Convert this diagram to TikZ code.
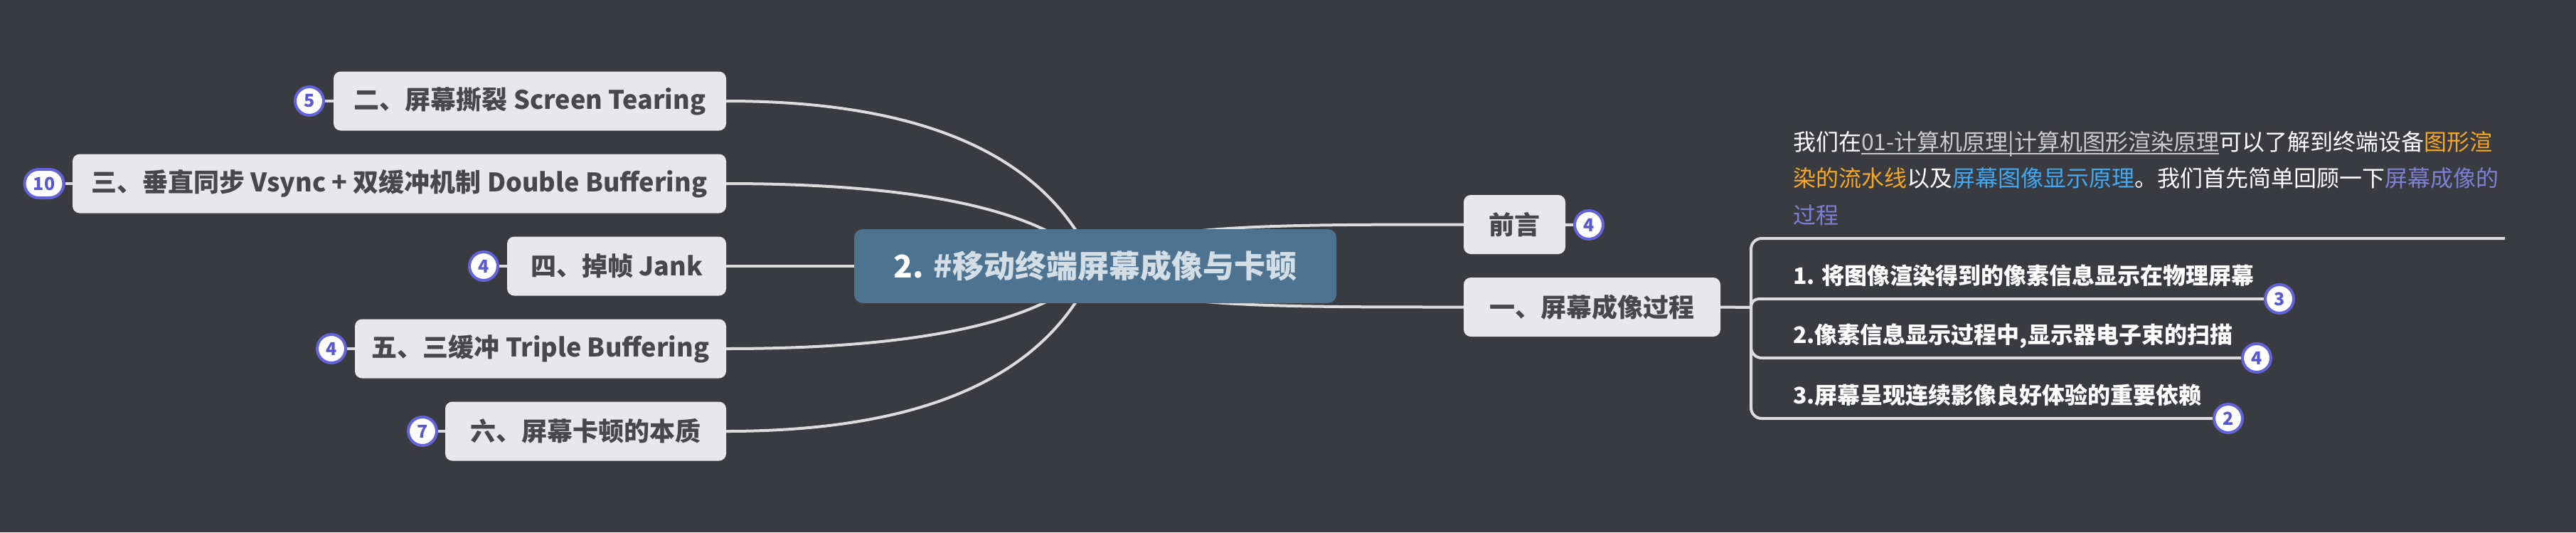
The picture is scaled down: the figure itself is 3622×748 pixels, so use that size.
\documentclass[tikz,border=0pt]{standalone}
\usepackage{fontspec}
\setmainfont{Noto Sans CJK SC}
\usetikzlibrary{calc}
\pgfdeclarelayer{back}
\pgfdeclarelayer{bg}
\pgfsetlayers{back,bg,main}
\definecolor{bgc}{HTML}{3A3B41}
\definecolor{boxc}{HTML}{E8E8EA}
\definecolor{boxtxt}{HTML}{48484B}
\definecolor{rootc}{HTML}{4E7390}
\definecolor{roottxt}{HTML}{D3DDE5}
\definecolor{linec}{HTML}{DCDCDC}
\definecolor{badgec}{HTML}{6363D9}
\definecolor{badgetxt}{HTML}{5A5AD0}
\definecolor{linkc}{HTML}{CBCBCB}
\definecolor{orangec}{HTML}{F5A623}
\definecolor{bluec}{HTML}{3FA9F5}
\definecolor{purplec}{HTML}{7D7FD6}
\newcommand\ulink[1]{\setbox0\hbox{#1}\rlap{\raisebox{-6pt}{\color{linkc}\rule{\wd0}{2.5pt}}}\box0}
\begin{document}
\begin{tikzpicture}[x=1pt,y=-1pt,
  topic/.style={fill=boxc, rounded corners=10pt, minimum height=83pt, inner sep=0pt,
    text=boxtxt, font=\fontsize{36}{40}\selectfont\bfseries},
  badge/.style={draw=badgec, line width=4pt, fill=white, rounded corners=20pt,
    minimum width=40pt, minimum height=40pt, inner sep=0pt, text=badgetxt,
    font=\fontsize{25}{25}\selectfont\bfseries},
  conn/.style={draw=linec, line width=4pt},
  item/.style={anchor=base west, inner sep=0pt, text=white,
    font=\fontsize{32}{36}\selectfont\bfseries},
  para/.style={anchor=base west, inner sep=0pt, text=white,
    font=\fontsize{32}{36}\selectfont},
  ]
\useasboundingbox (0,0) rectangle (3622,748);
\begin{pgfonlayer}{back}
\fill[bgc] (0,0) rectangle (3622,748);
\end{pgfonlayer}

% root
\node[fill=rootc, rounded corners=12pt, minimum width=678pt, minimum height=104pt,
  inner sep=0pt, font=\fontsize{44}{48}\selectfont\bfseries, text=roottxt]
  (root) at (1540,374) {\textcolor{white}{2.} \#移动终端屏幕成像与卡顿};

% left topics
\node[topic, minimum width=552pt] (b2) at (745,142) {二、屏幕撕裂 Screen Tearing};
\node[topic, minimum width=919pt] (b3) at (561.5,258) {三、垂直同步 Vsync + 双缓冲机制 Double Buffering};
\node[topic, minimum width=308pt] (b4) at (867,374) {四、掉帧 Jank};
\node[topic, minimum width=522pt] (b5) at (760,490) {五、三缓冲 Triple Buffering};
\node[topic, minimum width=395pt] (b6) at (823.5,606) {六、屏幕卡顿的本质};

\node[badge] (d2) at (435,142) {5};
\node[badge, minimum width=55pt] (d3) at (62,258) {10};
\node[badge] (d4) at (680,374) {4};
\node[badge] (d5) at (466,490) {4};
\node[badge] (d6) at (594,606) {7};

% right topics
\node[topic, minimum width=143pt] (qy) at (2129.5,315.5) {前言};
\node[badge] (dq) at (2234,316) {4};
\node[topic, minimum width=361pt] (yi) at (2238.5,431.5) {一、屏幕成像过程};

% paragraph
\node[para] (p1) at (2521,211) {我们在\textcolor{linkc}{\ulink{01-计算机原理|计算机图形渲染原理}}可以了解到终端设备\textcolor{orangec}{图形渲}};
\node[para] (p2) at (2521,262) {\textcolor{orangec}{染的流水线}以及\textcolor{bluec}{屏幕图像显示原理}。我们首先简单回顾一下\textcolor{purplec}{屏幕成像的}};
\node[para] (p3) at (2521,314) {\textcolor{purplec}{过程}};
\coordinate (pend) at (3522,335);

% items
\node[item] (i1) at (2521,399) {1. 将图像渲染得到的像素信息显示在物理屏幕};
\node[item] (i2) at (2521,482) {2.像素信息显示过程中,显示器电子束的扫描};
\node[item] (i3) at (2521,567) {3.屏幕呈现连续影像良好体验的重要依赖};
\node[badge] (bi1) at (3205,420) {3};
\node[badge] (bi2) at (3173,503) {4};
\node[badge] (bi3) at (3133,588) {2};

\coordinate (j) at (2462,432);

\begin{pgfonlayer}{bg}
\draw[conn] (b2.east) .. controls +(279,0) and +(-67,-155) .. (root.center);
\draw[conn] (b3.east) .. controls +(279,0) and +(-67,-77) .. (root.center);
\draw[conn] (b4.east) -- (root.center);
\draw[conn] (b5.east) .. controls +(279,0) and +(-67,77) .. (root.center);
\draw[conn] (b6.east) .. controls +(279,0) and +(-67,155) .. (root.center);
\draw[conn] (root.center) .. controls +(40,-58) and +(-300,0) .. (qy.west);
\draw[conn] (root.center) .. controls +(40,58) and +(-300,0) .. (yi.west);
\draw[conn] (d2) -- (b2);
\draw[conn] (d3) -- (b3);
\draw[conn] (d4) -- (b4);
\draw[conn] (d5) -- (b5);
\draw[conn] (d6) -- (b6);
\draw[conn] (qy) -- (dq);
\draw[conn] (yi.east) -- (j);
\draw[conn, rounded corners=15pt] (j) |- (pend);
\draw[conn, rounded corners=11pt] (j) |- (bi1.west);
\draw[conn, rounded corners=15pt] (j) |- (bi2.west);
\draw[conn, rounded corners=15pt] (j) |- (bi3.west);
\end{pgfonlayer}
\end{tikzpicture}
\end{document}
